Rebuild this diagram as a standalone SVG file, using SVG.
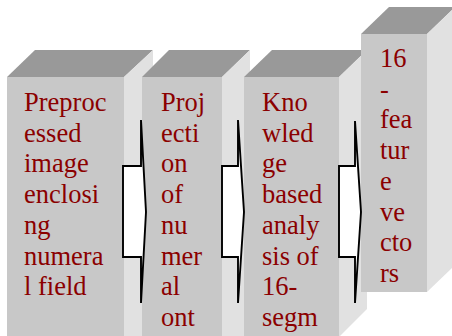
<svg xmlns="http://www.w3.org/2000/svg" width="452" height="336" viewBox="0 0 452 336">
<style>
.front{fill:#c8c8c8}
.top{fill:#999999}
.side{fill:#e1e1e1}
text{font-family:'Liberation Serif','Times New Roman',serif;font-size:26.5px;fill:#8b0000}
.arr{fill:#ffffff;stroke:#000000;stroke-width:1.9;stroke-linejoin:miter}
</style>
<rect width="452" height="336" fill="#ffffff"/>
<g id="box1">
<polygon class="top" points="7,77 35,50 153,50 124,77"/>
<polygon class="side" points="124,77 153,50 153,336 124,336"/>
<rect class="front" x="7" y="77" width="117" height="262"/>
<text x="24" y="111">Preproc</text>
<text x="24" y="141.7">essed</text>
<text x="24" y="172.4">image</text>
<text x="24" y="203.1">enclosi</text>
<text x="24" y="233.8">ng</text>
<text x="24" y="264.5">numera</text>
<text x="24" y="295.2">l field</text>
</g>
<g id="box2">
<polygon class="top" points="142,77 169,50 250,50 222,77"/>
<polygon class="side" points="222,77 250,50 250,336 222,336"/>
<rect class="front" x="142" y="77" width="80" height="262"/>
<text x="161" y="111">Proj</text>
<text x="161" y="141.7">ecti</text>
<text x="161" y="172.4">on</text>
<text x="161" y="203.1">of</text>
<text x="161" y="233.8">nu</text>
<text x="161" y="264.5">mer</text>
<text x="161" y="295.2">al</text>
<text x="161" y="325.9">ont</text>
</g>
<g id="box3">
<polygon class="top" points="244,77 272,50 367,50 339,77"/>
<polygon class="side" points="339,77 367,50 367,309 339,337"/>
<rect class="front" x="244" y="77" width="95" height="262"/>
<text x="262" y="111">Kno</text>
<text x="262" y="141.7">wled</text>
<text x="262" y="172.4">ge</text>
<text x="262" y="203.1">based</text>
<text x="262" y="233.8">analy</text>
<text x="262" y="264.5">sis of</text>
<text x="262" y="295.2">16-</text>
<text x="262" y="325.9">segm</text>
</g>
<g id="box4">
<polygon class="top" points="361,34 389,7 455,7 427,34"/>
<polygon class="side" points="427,34 455,7 455,265 427,292"/>
<rect class="front" x="361" y="34" width="66" height="258"/>
<text x="380" y="67">16</text>
<text x="380" y="97.7">-</text>
<text x="380" y="128.4">fea</text>
<text x="380" y="159.1">tur</text>
<text x="380" y="189.8">e</text>
<text x="380" y="220.5">ve</text>
<text x="380" y="251.2">cto</text>
<text x="380" y="281.9">rs</text>
</g>
<g id="connectors">
<polygon class="arr" points="123,166 141,166 141,120 146,212 141,303 141,257 123,257"/>
<polygon class="arr" points="222,166 238,166 238,120 244,212 238,303 238,257 222,257"/>
<polygon class="arr" points="339,166 355,166 355,121 361,212 355,303 355,257 339,257"/>
</g>
</svg>
